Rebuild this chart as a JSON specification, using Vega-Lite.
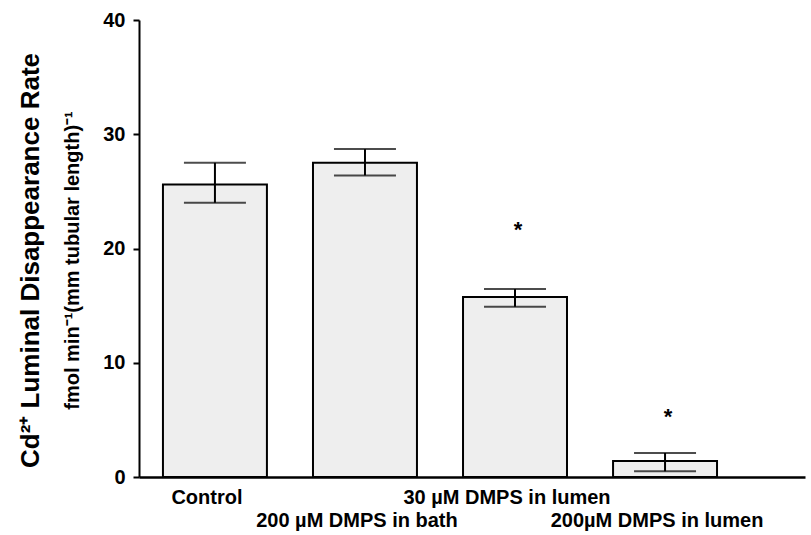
{
  "$schema": "https://vega.github.io/schema/vega-lite/v6.json",
  "width": 666,
  "height": 457,
  "autosize": {"type": "none"},
  "padding": {"left": 139, "top": 20, "right": 6, "bottom": 58},
  "background": "white",
  "config": {
    "view": {"stroke": null},
    "font": "Liberation Sans",
    "axis": {"grid": false, "domainColor": "black", "tickColor": "black", "labelColor": "black", "labelFont": "Liberation Sans", "labelFontWeight": "bold"}
  },
  "title": {
    "text": "Cd²⁺ Luminal Disappearance Rate",
    "subtitle": "fmol min⁻¹(mm tubular length)⁻¹",
    "orient": "left",
    "anchor": "middle",
    "font": "Liberation Sans",
    "fontSize": 26,
    "fontWeight": "bold",
    "color": "black",
    "subtitleFont": "Liberation Sans",
    "subtitleFontSize": 20,
    "subtitleFontWeight": "bold",
    "subtitleColor": "black",
    "subtitlePadding": 19,
    "offset": 20,
    "dx": -12
  },
  "data": {
    "values": [
      {"group": "Control", "mean": 25.6, "lower": 24.0, "upper": 27.5},
      {"group": "200 µM DMPS in bath", "mean": 27.5, "lower": 26.4, "upper": 28.7},
      {"group": "30 µM DMPS in lumen", "mean": 15.75, "lower": 14.9, "upper": 16.45, "sig": "*", "sig_y": 22.1},
      {"group": "200µM DMPS in lumen", "mean": 1.4, "lower": 0.5, "upper": 2.1, "sig": "*", "sig_y": 5.7}
    ]
  },
  "encoding": {
    "x": {
      "field": "group",
      "type": "nominal",
      "sort": null,
      "scale": {"paddingInner": 0.307, "paddingOuter": 0.373, "align": 0.214},
      "axis": {
        "title": null,
        "ticks": false,
        "domainWidth": 2.5,
        "labelAngle": 0,
        "labelFontSize": 20,
        "labelPadding": 10,
        "labelLineHeight": 23,
        "labelOffset": -8,
        "labelLimit": 0,
        "labelOverlap": false,
        "labelExpr": "indexof(['Control','30 µM DMPS in lumen'], datum.value) >= 0 ? datum.value : ['', datum.value]"
      }
    }
  },
  "layer": [
    {
      "mark": {"type": "bar", "fill": "#eeeeee", "stroke": "black", "strokeWidth": 2},
      "encoding": {
        "y": {
          "field": "mean",
          "type": "quantitative",
          "scale": {"domain": [0, 40], "nice": false},
          "axis": {
            "title": null,
            "values": [0, 10, 20, 30, 40],
            "tickSize": 6,
            "tickWidth": 2,
            "domainWidth": 2,
            "labelFontSize": 20,
            "labelPadding": 8
          }
        }
      }
    },
    {
      "mark": {"type": "rule", "color": "black", "strokeWidth": 2},
      "encoding": {
        "y": {"field": "lower", "type": "quantitative"},
        "y2": {"field": "upper"}
      }
    },
    {
      "mark": {"type": "tick", "color": "black", "size": 62, "thickness": 2},
      "encoding": {"y": {"field": "upper", "type": "quantitative"}}
    },
    {
      "mark": {"type": "tick", "color": "black", "size": 62, "thickness": 2},
      "encoding": {"y": {"field": "lower", "type": "quantitative"}}
    },
    {
      "mark": {"type": "text", "fontSize": 22, "fontWeight": "bold", "baseline": "middle", "color": "black", "dx": 3, "dy": 5},
      "encoding": {
        "y": {"field": "sig_y", "type": "quantitative"},
        "text": {"field": "sig"}
      }
    }
  ]
}
